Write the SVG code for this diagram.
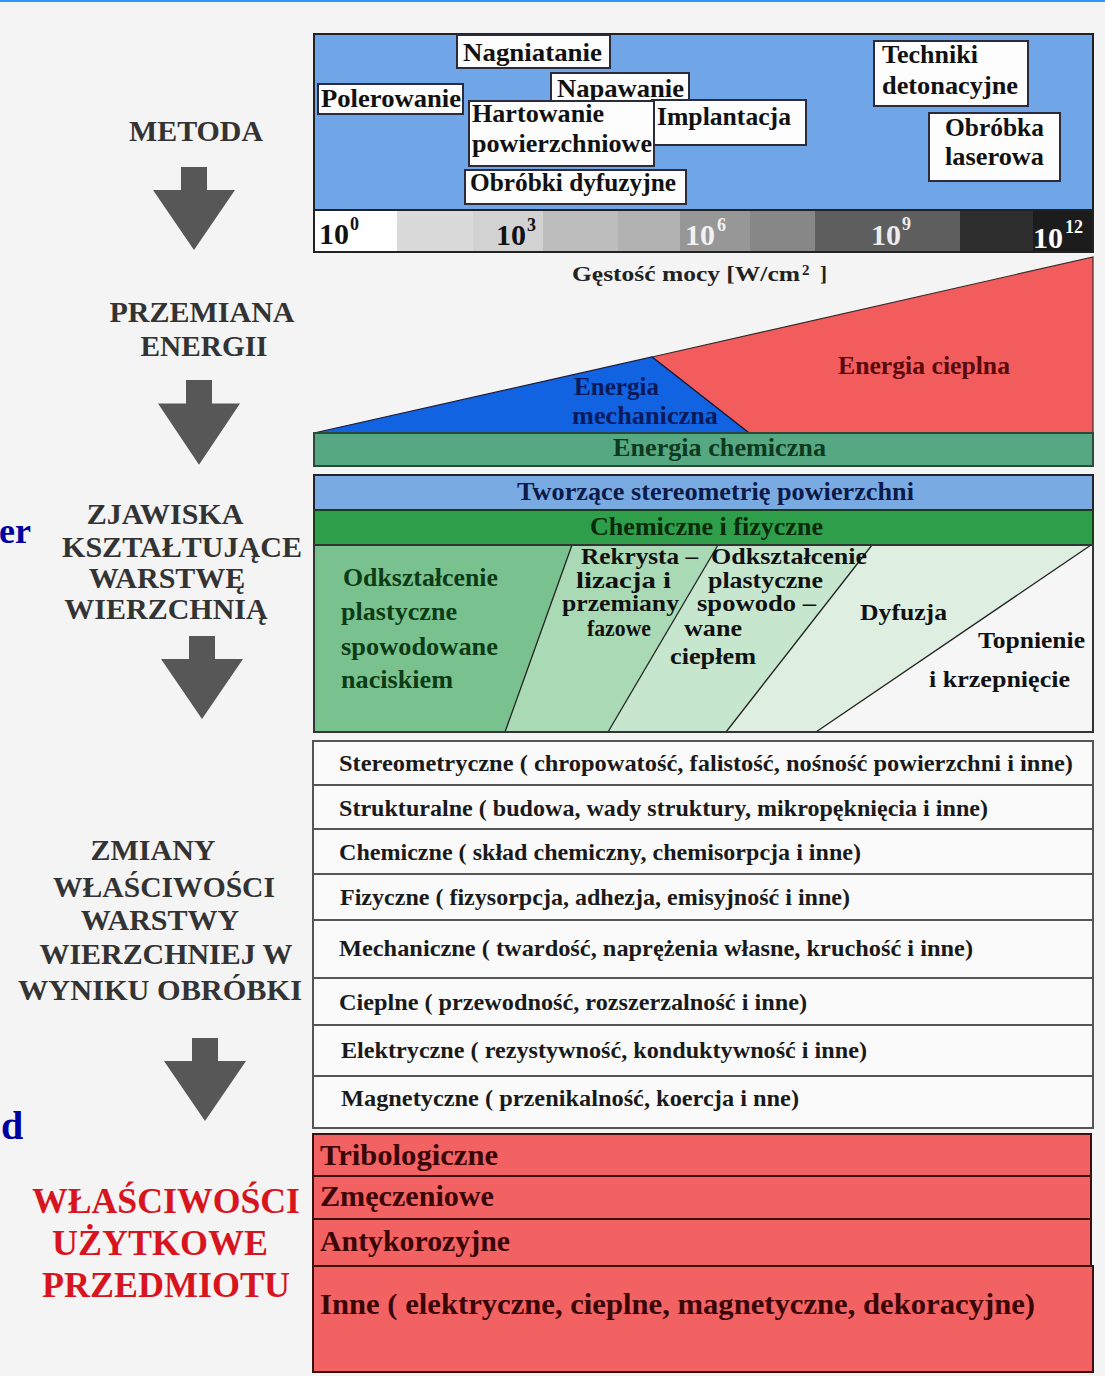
<svg xmlns="http://www.w3.org/2000/svg" width="1105" height="1376" viewBox="0 0 1105 1376">
<defs>
<style>
.t{font-family:"Liberation Serif","Times New Roman",serif;font-weight:bold;}
.box{fill:#fdfdfd;stroke:#2b2b3b;stroke-width:2;}
.m{font-size:26px;fill:#111;}
.lab{font-size:30px;fill:#333;text-anchor:middle;}
.red{font-size:35px;fill:#d8141e;text-anchor:middle;}
.row{fill:#fafafa;stroke:#555;stroke-width:2;}
.rt{font-size:24px;fill:#1a1a1a;}
.pr{fill:#f26262;stroke:#3a1010;stroke-width:2;}
.pt{font-size:29px;fill:#3a0505;}
.z{font-size:23px;fill:#111;}
.zg{font-size:25px;fill:#0d3b14;}
.sc{font-size:30px;}
.sup{font-size:18px;}
.arr{fill:#575757;}
</style>
<path id="arrow" d="M-13,0 H13 V23 H41 L0,83 L-41,23 H-13 Z"/>
</defs>
<rect x="0" y="0" width="1105" height="1376" fill="#f4f4f4"/>
<rect x="0" y="0" width="1105" height="2" fill="#2e96ff"/>

<!-- partial text on left edge -->
<text class="t" x="-1" y="543" font-size="36" fill="#0000a0">er</text>
<text class="t" x="1" y="1139" font-size="40" fill="#0000a0">d</text>

<!-- left labels -->
<g id="label-metoda"><text class="t lab" x="196" y="141" textLength="134" lengthAdjust="spacingAndGlyphs">METODA</text></g>
<g id="label-przemiana">
<text class="t lab" x="202" y="322" textLength="185" lengthAdjust="spacingAndGlyphs">PRZEMIANA</text>
<text class="t lab" x="204" y="356" textLength="127" lengthAdjust="spacingAndGlyphs">ENERGII</text>
</g>
<g id="label-zjawiska">
<text class="t lab" x="165" y="524">ZJAWISKA</text>
<text class="t lab" x="182" y="557" textLength="240" lengthAdjust="spacingAndGlyphs">KSZTAŁTUJĄCE</text>
<text class="t lab" x="167" y="588">WARSTWĘ</text>
<text class="t lab" x="166" y="619">WIERZCHNIĄ</text>
</g>
<g id="label-zmiany">
<text class="t lab" x="153" y="860">ZMIANY</text>
<text class="t lab" x="164" y="897" textLength="222" lengthAdjust="spacingAndGlyphs">WŁAŚCIWOŚCI</text>
<text class="t lab" x="160" y="930">WARSTWY</text>
<text class="t lab" x="166" y="964" textLength="253" lengthAdjust="spacingAndGlyphs">WIERZCHNIEJ W</text>
<text class="t lab" x="160" y="1000" textLength="284" lengthAdjust="spacingAndGlyphs">WYNIKU OBRÓBKI</text>
</g>
<g id="label-wlasciwosci">
<text class="t red" x="166" y="1213" textLength="268" lengthAdjust="spacingAndGlyphs">WŁAŚCIWOŚCI</text>
<text class="t red" x="160" y="1255" textLength="216" lengthAdjust="spacingAndGlyphs">UŻYTKOWE</text>
<text class="t red" x="166" y="1297" textLength="248" lengthAdjust="spacingAndGlyphs">PRZEDMIOTU</text>
</g>

<!-- connectors (arrows) -->
<g id="connectors" class="arr">
<use href="#arrow" transform="translate(194,167)"/>
<use href="#arrow" transform="translate(199,380) scale(1,1.02)"/>
<use href="#arrow" transform="translate(202,636)"/>
<use href="#arrow" transform="translate(205,1038)"/>
</g>

<!-- METODA panel -->
<g id="metoda-panel">
<rect x="314" y="34" width="779" height="176" fill="#70a5e8" stroke="#222" stroke-width="2"/>
</g>
<g id="node-nagniatanie"><rect class="box" x="457" y="35" width="153" height="33"/><text class="t m" x="463" y="61" textLength="139" lengthAdjust="spacingAndGlyphs">Nagniatanie</text></g>
<g id="node-polerowanie"><rect class="box" x="318" y="84" width="145" height="30"/><text class="t m" x="321" y="107" textLength="140" lengthAdjust="spacingAndGlyphs">Polerowanie</text></g>
<g id="node-napawanie"><rect class="box" x="551" y="73" width="138" height="29"/><text class="t m" x="557" y="97" textLength="127" lengthAdjust="spacingAndGlyphs">Napawanie</text></g>
<g id="node-implantacja"><rect class="box" x="652" y="100" width="154" height="45"/><text class="t m" x="657" y="125" textLength="134" lengthAdjust="spacingAndGlyphs">Implantacja</text></g>
<g id="node-hartowanie"><rect class="box" x="469" y="101" width="185" height="65"/><text class="t m" x="472" y="122" textLength="132" lengthAdjust="spacingAndGlyphs">Hartowanie</text><text class="t m" x="472" y="152" textLength="180" lengthAdjust="spacingAndGlyphs">powierzchniowe</text></g>
<g id="node-dyfuzyjne"><rect class="box" x="465" y="170" width="221" height="34"/><text class="t m" x="470" y="191" textLength="206" lengthAdjust="spacingAndGlyphs">Obróbki dyfuzyjne</text></g>
<g id="node-techniki"><rect class="box" x="874" y="41" width="154" height="65"/><text class="t m" x="882" y="63" textLength="96" lengthAdjust="spacingAndGlyphs">Techniki</text><text class="t m" x="882" y="94" textLength="136" lengthAdjust="spacingAndGlyphs">detonacyjne</text></g>
<g id="node-laserowa"><rect class="box" x="929" y="113" width="131" height="68"/><text class="t m" x="945" y="136" textLength="99" lengthAdjust="spacingAndGlyphs">Obróbka</text><text class="t m" x="945" y="165" textLength="99" lengthAdjust="spacingAndGlyphs">laserowa</text></g>

<!-- scale bar -->
<g id="scale-bar">
<rect x="314" y="210" width="83" height="42" fill="#ffffff"/>
<rect x="397" y="210" width="76" height="42" fill="#dadada"/>
<rect x="473" y="210" width="70" height="42" fill="#d2d2d2"/>
<rect x="543" y="210" width="75" height="42" fill="#bdbdbd"/>
<rect x="618" y="210" width="62" height="42" fill="#b2b2b2"/>
<rect x="680" y="210" width="70" height="42" fill="#979797"/>
<rect x="750" y="210" width="65" height="42" fill="#878787"/>
<rect x="815" y="210" width="145" height="42" fill="#5e5e5e"/>
<rect x="960" y="210" width="73" height="42" fill="#2e2e2e"/>
<rect x="1033" y="210" width="60" height="42" fill="#1c1c1c"/>
<rect x="314" y="210" width="779" height="42" fill="none" stroke="#222" stroke-width="2"/>
<text class="t sc" x="319" y="244" fill="#111">10</text><text class="t sup" x="350" y="230" fill="#111">0</text>
<text class="t sc" x="496" y="245" fill="#111">10</text><text class="t sup" x="527" y="231" fill="#111">3</text>
<text class="t sc" x="685" y="245" fill="#f2f2f2">10</text><text class="t sup" x="717" y="231" fill="#f2f2f2">6</text>
<text class="t sc" x="871" y="245" fill="#ececec">10</text><text class="t sup" x="902" y="230" fill="#ececec">9</text>
<text class="t sc" x="1033" y="248" fill="#ffffff">10</text><text class="t sup" x="1065" y="233" fill="#ffffff">12</text>
<text class="t" x="572" y="281" font-size="21" fill="#222" textLength="228" lengthAdjust="spacingAndGlyphs">Gęstość mocy [W/cm</text>
<text class="t" x="802" y="275" font-size="15" fill="#222">2</text>
<text class="t" x="820" y="281" font-size="21" fill="#222">]</text>
</g>

<!-- energy conversion -->
<g id="energia-cieplna">
<polygon points="652,357 1093,257 1093,433 749,433" fill="#f25c5c" stroke="#3a2a2a" stroke-width="1.2"/>
<text class="t" x="838" y="374" font-size="26" fill="#5a0a0a" textLength="172" lengthAdjust="spacingAndGlyphs">Energia cieplna</text>
</g>
<g id="energia-mechaniczna">
<polygon points="314,433 652,357 749,433" fill="#1263e2" stroke="#1a1a3a" stroke-width="1.2"/>
<text class="t" x="574" y="395" font-size="26" fill="#0a1a5a" textLength="85" lengthAdjust="spacingAndGlyphs">Energia</text>
<text class="t" x="572" y="424" font-size="26" fill="#0a1a5a" textLength="146" lengthAdjust="spacingAndGlyphs">mechaniczna</text>
</g>
<g id="energia-chemiczna">
<rect x="314" y="433" width="779" height="33" fill="#55a882" stroke="#2a4a3a" stroke-width="2"/>
<text class="t" x="613" y="456" font-size="26" fill="#0d3a1e" textLength="213" lengthAdjust="spacingAndGlyphs">Energia chemiczna</text>
</g>

<!-- phenomena -->
<g id="tworzace">
<rect x="314" y="475" width="779" height="35" fill="#7aaae2" stroke="#223" stroke-width="2"/>
<text class="t" x="517" y="500" font-size="26" fill="#0a1a4a" textLength="397" lengthAdjust="spacingAndGlyphs">Tworzące stereometrię powierzchni</text>
</g>
<g id="chemiczne-fizyczne">
<rect x="314" y="510" width="779" height="35" fill="#2e9e4a" stroke="#1a3a1a" stroke-width="2"/>
<text class="t" x="590" y="535" font-size="26" fill="#0a2a0a" textLength="233" lengthAdjust="spacingAndGlyphs">Chemiczne i fizyczne</text>
</g>
<g id="zjawiska-kolumny">
<polygon points="314,545 572,545 505,732 314,732" fill="#79c28f"/>
<polygon points="572,545 718,545 608,732 505,732" fill="#a9d9b5"/>
<polygon points="718,545 872,545 726,732 608,732" fill="#c6e6cd"/>
<polygon points="872,545 1091,545 816,732 726,732" fill="#deefe2"/>
<polygon points="1091,545 1093,545 1093,732 816,732" fill="#f6f6f6"/>
<g stroke="#222" stroke-width="1.3" fill="none">
<line x1="572" y1="545" x2="505" y2="732"/>
<line x1="718" y1="545" x2="608" y2="732"/>
<line x1="872" y1="545" x2="726" y2="732"/>
<line x1="1091" y1="545" x2="816" y2="732"/>
</g>
<rect x="314" y="545" width="779" height="187" fill="none" stroke="#333" stroke-width="2"/>
</g>
<g id="odksztalcenie-naciskiem">
<text class="t zg" x="343" y="586" textLength="155" lengthAdjust="spacingAndGlyphs">Odkształcenie</text>
<text class="t zg" x="341" y="620" textLength="116" lengthAdjust="spacingAndGlyphs">plastyczne</text>
<text class="t zg" x="341" y="655" textLength="157" lengthAdjust="spacingAndGlyphs">spowodowane</text>
<text class="t zg" x="341" y="688" textLength="112" lengthAdjust="spacingAndGlyphs">naciskiem</text>
</g>
<g id="rekrystalizacja">
<text class="t z" x="581" y="564" textLength="117" lengthAdjust="spacingAndGlyphs">Rekrysta –</text>
<text class="t z" x="576" y="588" textLength="95" lengthAdjust="spacingAndGlyphs">lizacja  i</text>
<text class="t z" x="562" y="611" textLength="117" lengthAdjust="spacingAndGlyphs">przemiany</text>
<text class="t z" x="587" y="636" textLength="64" lengthAdjust="spacingAndGlyphs">fazowe</text>
</g>
<g id="odksztalcenie-cieplem">
<text class="t z" x="711" y="564" textLength="156" lengthAdjust="spacingAndGlyphs">Odkształcenie</text>
<text class="t z" x="708" y="588" textLength="115" lengthAdjust="spacingAndGlyphs">plastyczne</text>
<text class="t z" x="697" y="611" textLength="119" lengthAdjust="spacingAndGlyphs">spowodo –</text>
<text class="t z" x="684" y="636" textLength="58" lengthAdjust="spacingAndGlyphs">wane</text>
<text class="t z" x="670" y="664" textLength="86" lengthAdjust="spacingAndGlyphs">ciepłem</text>
</g>
<g id="dyfuzja"><text class="t z" x="860" y="620" font-size="25" textLength="87" lengthAdjust="spacingAndGlyphs">Dyfuzja</text></g>
<g id="topnienie">
<text class="t z" x="978" y="648" font-size="25" textLength="107" lengthAdjust="spacingAndGlyphs">Topnienie</text>
<text class="t z" x="929" y="687" font-size="25" textLength="141" lengthAdjust="spacingAndGlyphs">i krzepnięcie</text>
</g>

<!-- property changes -->
<g id="zmiany-wlasciwosci">
<rect class="row" x="313" y="741" width="780" height="44"/>
<rect class="row" x="313" y="785" width="780" height="44"/>
<rect class="row" x="313" y="829" width="780" height="45"/>
<rect class="row" x="313" y="874" width="780" height="46"/>
<rect class="row" x="313" y="920" width="780" height="58"/>
<rect class="row" x="313" y="978" width="780" height="47"/>
<rect class="row" x="313" y="1025" width="780" height="51"/>
<rect class="row" x="313" y="1076" width="780" height="52"/>
<text class="t rt" x="339" y="771" textLength="734" lengthAdjust="spacingAndGlyphs">Stereometryczne ( chropowatość, falistość, nośność powierzchni i inne)</text>
<text class="t rt" x="339" y="816" textLength="649" lengthAdjust="spacingAndGlyphs">Strukturalne ( budowa, wady struktury, mikropęknięcia i inne)</text>
<text class="t rt" x="339" y="860" textLength="522" lengthAdjust="spacingAndGlyphs">Chemiczne ( skład chemiczny, chemisorpcja i inne)</text>
<text class="t rt" x="340" y="905" textLength="510" lengthAdjust="spacingAndGlyphs">Fizyczne ( fizysorpcja, adhezja, emisyjność i inne)</text>
<text class="t rt" x="339" y="956" textLength="634" lengthAdjust="spacingAndGlyphs">Mechaniczne ( twardość, naprężenia własne, kruchość i inne)</text>
<text class="t rt" x="339" y="1010" textLength="468" lengthAdjust="spacingAndGlyphs">Cieplne ( przewodność, rozszerzalność i inne)</text>
<text class="t rt" x="341" y="1058" textLength="526" lengthAdjust="spacingAndGlyphs">Elektryczne ( rezystywność, konduktywność i inne)</text>
<text class="t rt" x="341" y="1106" textLength="458" lengthAdjust="spacingAndGlyphs">Magnetyczne ( przenikalność, koercja i nne)</text>
</g>

<!-- usable properties -->
<g id="wlasciwosci-uzytkowe">
<rect class="pr" x="313" y="1134" width="778" height="42"/>
<rect class="pr" x="313" y="1176" width="778" height="43"/>
<rect class="pr" x="313" y="1219" width="778" height="47"/>
<rect class="pr" x="313" y="1266" width="780" height="106"/>
<text class="t pt" x="320" y="1165" textLength="178" lengthAdjust="spacingAndGlyphs">Tribologiczne</text>
<text class="t pt" x="320" y="1206" textLength="174" lengthAdjust="spacingAndGlyphs">Zmęczeniowe</text>
<text class="t pt" x="320" y="1251" textLength="190" lengthAdjust="spacingAndGlyphs">Antykorozyjne</text>
<text class="t pt" x="320" y="1314" textLength="715" lengthAdjust="spacingAndGlyphs">Inne ( elektryczne, cieplne, magnetyczne, dekoracyjne)</text>
</g>
</svg>
